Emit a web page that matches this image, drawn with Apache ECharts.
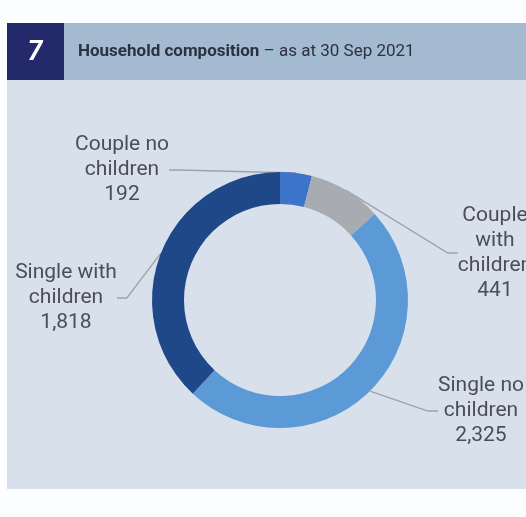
<!DOCTYPE html>
<html><head><meta charset="utf-8">
<script src="https://cdn.jsdelivr.net/npm/echarts@6/dist/echarts.min.js"></script>
<style>html,body{margin:0;padding:0;background:#fcfdfe}#c{width:526px;height:517px}</style>
</head><body><div id="c"></div>
<script>
const categories = ['Couple no children', 'Couple with children', 'Single no children', 'Single with children'];
const labelTexts = ['Couple no\nchildren', 'Couple\nwith\nchildren', 'Single no\nchildren', 'Single with\nchildren'];
const values = [192, 441, 2325, 1818];
const colors = ['#3b74c8', '#a8abaf', '#5b9ad6', '#1f4889'];
const titleBold = 'Household composition';
const titleRest = ' – as at 30 Sep 2021';
const chartNumber = '7';

const labelPos = [[122, 170], [495, 253], [481, 411], [66, 298]];

const chart = echarts.init(document.getElementById('c'), null, {renderer: 'canvas'});
chart.setOption({
  backgroundColor: '#fcfdfe',
  animation: false,
  graphic: [
    {type: 'rect', z: -10, shape: {x: 7, y: 80, width: 519, height: 409}, style: {fill: '#d8e1eb'}},
    {type: 'rect', z: -10, shape: {x: 64, y: 23, width: 462, height: 57}, style: {fill: '#a4bad1'}},
    {type: 'rect', z: -10, shape: {x: 7, y: 23, width: 57, height: 57}, style: {fill: '#23296b'}},
    {type: 'text', z: -5, x: 35, y: 53, style: {text: chartNumber, fill: '#ffffff', fontSize: 27, fontWeight: 'bold', fontStyle: 'italic', fontFamily: 'Roboto', align: 'center', verticalAlign: 'middle'}},
    {type: 'text', z: -5, x: 78, y: 52, style: {
      text: '{b|' + titleBold + '}{r|' + titleRest + '}',
      verticalAlign: 'middle',
      rich: {
        b: {fontSize: 17, fontWeight: 'bold', fontFamily: 'Roboto', fill: '#2b3140'},
        r: {fontSize: 17, fontFamily: 'Roboto', fill: '#2b3140'}
      }
    }}
  ],
  series: [{
    type: 'pie',
    center: [280, 300],
    radius: [96, 128],
    startAngle: 90,
    clockwise: true,
    avoidLabelOverlap: false,
    data: categories.map((c, i) => ({name: c, value: values[i], itemStyle: {color: colors[i]}})),
    label: {
      show: true,
      formatter: p => labelTexts[p.dataIndex] + '\n' + p.value.toLocaleString('en-US'),
      fontFamily: 'Roboto',
      fontSize: 21,
      lineHeight: 25,
      color: '#4b4e57',
      align: 'center'
    },
    labelLine: {show: true, length: 10, length2: 10, lineStyle: {color: '#9aa3ae', width: 1.3}},
    labelLayout: p => ({x: labelPos[p.dataIndex][0], y: labelPos[p.dataIndex][1], align: 'center', verticalAlign: 'middle'}),
    emphasis: {disabled: true}
  }]
});
</script></body></html>
